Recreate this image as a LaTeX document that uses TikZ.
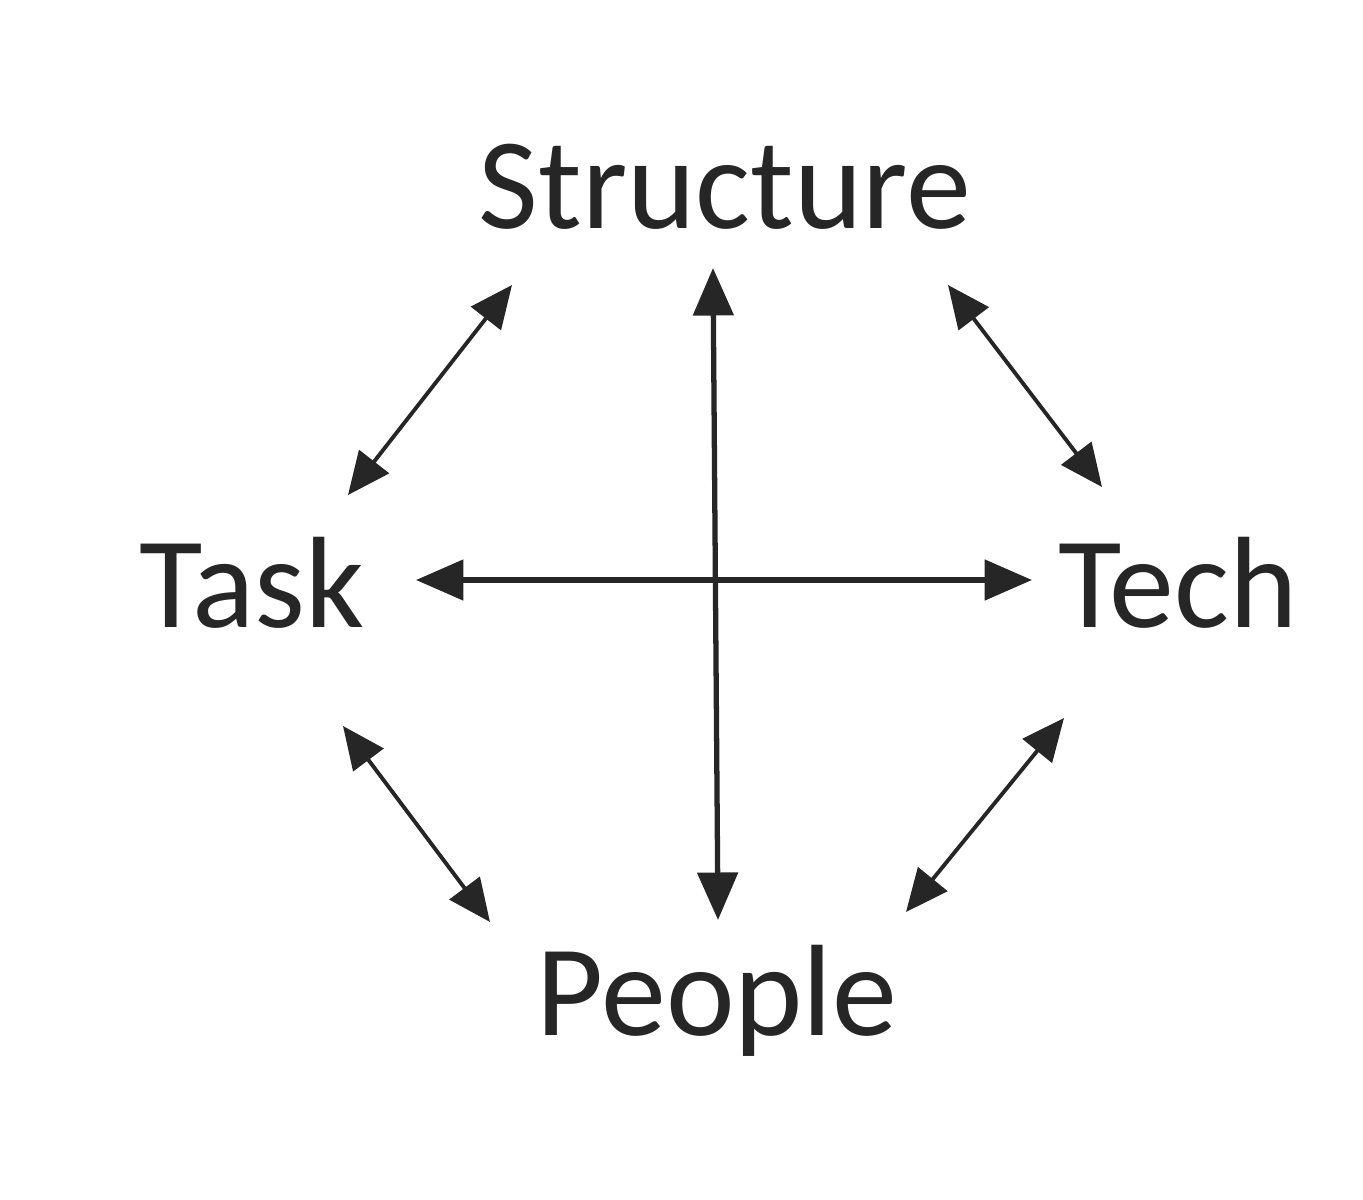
\documentclass[tikz,border=0pt]{standalone}
\usepackage{fontspec}
\setmainfont{Carlito}
\usetikzlibrary{arrows.meta}
\begin{document}
\begin{tikzpicture}[x=0.02cm,y=-0.02cm,
  lbl/.style={font=\fontsize{74}{80}\selectfont, inner sep=0pt, anchor=base, text=black!85},
  link/.style={line width=3pt, draw=black!85, {Triangle[length=0.95cm,width=0.8cm]}-{Triangle[length=0.95cm,width=0.8cm]}},
  slink/.style={line width=2.2pt, draw=black!85, {Triangle[length=0.85cm,width=0.75cm]}-{Triangle[length=0.85cm,width=0.75cm]}}]
\useasboundingbox[fill=white] (0,0) rectangle (1363,1200);
\node[lbl] (structure) at (725,228) {Structure};
\node[lbl] (task) at (252,627) {Task};
\node[lbl] (tech) at (1178,627) {Tech};
\node[lbl] (people) at (717,1035) {People};
\coordinate (vt) at (713,268);
\coordinate (vb) at (718,920);
\coordinate (hl) at (416,580);
\coordinate (hr) at (1032,580);
\coordinate (ts1) at (348,495);
\coordinate (ts2) at (512,285);
\coordinate (st1) at (948,285);
\coordinate (st2) at (1102,487);
\coordinate (tp1) at (343,726);
\coordinate (tp2) at (490,922);
\coordinate (hp1) at (1064,718);
\coordinate (hp2) at (906,912);
\draw[link] (vt) -- (vb);
\draw[link] (hl) -- (hr);
\draw[slink] (ts1) -- (ts2);
\draw[slink] (st1) -- (st2);
\draw[slink] (tp1) -- (tp2);
\draw[slink] (hp1) -- (hp2);
\end{tikzpicture}
\end{document}
